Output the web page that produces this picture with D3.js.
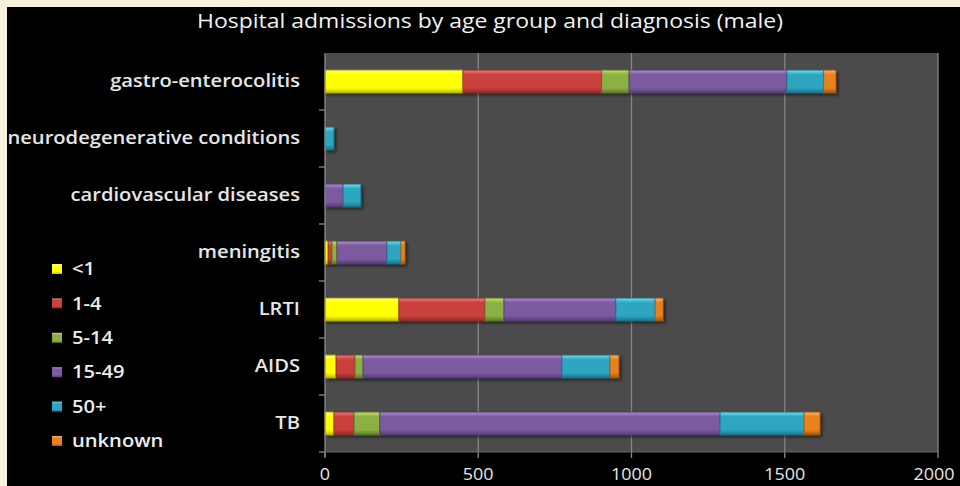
<!DOCTYPE html>
<html>
<head>
<meta charset="utf-8">
<script src="https://cdn.jsdelivr.net/npm/d3@7"></script>
<style>
  html, body { margin: 0; padding: 0; background: #f8f1dc; }
  svg { display: block; }
</style>
</head>
<body>
<svg id="chart" width="960" height="486"></svg>
<script>
// Diagnoses, top to bottom
const categories = [
  "gastro-enterocolitis",
  "neurodegenerative conditions",
  "cardiovascular diseases",
  "meningitis",
  "LRTI",
  "AIDS",
  "TB"
];

// Age groups (stack order, left to right)
const ageGroups = ["<1", "1-4", "5-14", "15-49", "50+", "unknown"];

// Admissions per age group, in category order
const under1    = [450,  0,  0,  10, 241,  36,   29];
const age1to4   = [453,  0,  0,  13, 281,  62,   66];
const age5to14  = [ 89,  0,  0,  16,  62,  26,   84];
const age15to49 = [515,  0, 59, 163, 365, 649, 1110];
const age50plus = [120, 29, 58,  46, 128, 157,  274];
const unknown   = [ 40,  0,  0,  13,  26,  29,   52];

const xTicks = [0, 500, 1000, 1500, 2000];

const seriesValues = [under1, age1to4, age5to14, age15to49, age50plus, unknown];
const colors = ["#ffff00", "#c9403d", "#8cb043", "#7b5aa0", "#2ea6c2", "#e9821f"];
const lightColors = ["#ffff66", "#f27c7a", "#c2e36e", "#b08fd6", "#6ee0f5", "#ffb35c"];
const darkColors = ["#b8b800", "#8f2a28", "#5f7a2a", "#553c74", "#1d7388", "#a65812"];

const rows = categories.map((c, i) => {
  const r = { category: c };
  ageGroups.forEach((g, j) => { r[g] = seriesValues[j][i]; });
  return r;
});

const svg = d3.select("#chart");

// Widen a text run horizontally, keeping its glyph height
function stretch(sel, factor) {
  sel.each(function () {
    const w = this.getComputedTextLength();
    d3.select(this).attr("textLength", w * factor).attr("lengthAdjust", "spacingAndGlyphs");
  });
}

// Black chart area inside the cream frame
svg.append("rect").attr("x", 7).attr("y", 7).attr("width", 953).attr("height", 479).attr("fill", "#000");

const plot = { left: 325, top: 53, width: 613, height: 399 };

const x = d3.scaleLinear().domain([0, 2000]).range([plot.left, plot.left + plot.width]);
const y = d3.scaleBand().domain(categories).range([plot.top, plot.top + plot.height]).paddingInner(0.6).paddingOuter(0.3);
const yOuter = d3.scaleBand().domain(categories).range([plot.top, plot.top + plot.height]);

const defs = svg.append("defs");
ageGroups.forEach((g, j) => {
  const grad = defs.append("linearGradient").attr("id", "grad" + j)
    .attr("x1", 0).attr("y1", 0).attr("x2", 0).attr("y2", 1);
  grad.append("stop").attr("offset", "0%").attr("stop-color", lightColors[j]);
  grad.append("stop").attr("offset", "20%").attr("stop-color", colors[j]);
  grad.append("stop").attr("offset", "78%").attr("stop-color", colors[j]);
  grad.append("stop").attr("offset", "100%").attr("stop-color", darkColors[j]);
});
const shadow = defs.append("filter").attr("id", "shadow").attr("x", "-20%").attr("y", "-30%").attr("width", "140%").attr("height", "180%");
shadow.append("feDropShadow").attr("dx", 2).attr("dy", 2).attr("stdDeviation", 1.6)
  .attr("flood-color", "#000").attr("flood-opacity", 0.55);

// Plot area
svg.append("rect")
  .attr("x", plot.left).attr("y", plot.top)
  .attr("width", plot.width).attr("height", plot.height)
  .attr("fill", "#4b4b4b");

// Vertical gridlines
svg.append("g").selectAll("line")
  .data(xTicks.slice(1))
  .join("line")
  .attr("x1", d => x(d)).attr("x2", d => x(d))
  .attr("y1", plot.top).attr("y2", plot.top + plot.height)
  .attr("stroke", "#868686").attr("stroke-width", 1.3);

// Stacked bars
const stacked = d3.stack().keys(ageGroups)(rows);
const layers = svg.append("g").attr("filter", "url(#shadow)");
stacked.forEach((layer, j) => {
  layers.append("g").selectAll("rect")
    .data(layer.filter(d => d[1] - d[0] > 0))
    .join("rect")
    .attr("x", d => x(d[0]))
    .attr("y", d => y(d.data.category))
    .attr("width", d => x(d[1]) - x(d[0]))
    .attr("height", y.bandwidth())
    .attr("fill", "url(#grad" + j + ")")
    .attr("stroke", darkColors[j])
    .attr("stroke-width", 0.8);
});

// Y axis with ticks between categories
const yAxisG = svg.append("g");
yAxisG.append("line")
  .attr("x1", plot.left).attr("x2", plot.left)
  .attr("y1", plot.top).attr("y2", plot.top + plot.height + 5)
  .attr("stroke", "#8a8a8a").attr("stroke-width", 1.3);
yAxisG.selectAll("line.tick")
  .data(categories.map(c => yOuter(c)).concat([plot.top + plot.height]).slice(1))
  .join("line").attr("class", "tick")
  .attr("x1", plot.left - 6).attr("x2", plot.left)
  .attr("y1", d => d).attr("y2", d => d)
  .attr("stroke", "#8a8a8a").attr("stroke-width", 1.3);
yAxisG.selectAll("text")
  .data(categories)
  .join("text")
  .attr("x", 300)
  .attr("y", d => yOuter(d) + yOuter.bandwidth() / 2 - 1)
  .attr("dy", "0.35em")
  .attr("text-anchor", "end")
  .attr("fill", "#e6e6e6")
  .attr("font-family", "Open Sans, sans-serif")
  .attr("font-weight", 600)
  .attr("font-size", 17.5)
  .text(d => d)
  .call(stretch, 1.15);

// X axis
const xAxisG = svg.append("g");
xAxisG.selectAll("line")
  .data(xTicks)
  .join("line")
  .attr("x1", d => x(d)).attr("x2", d => x(d))
  .attr("y1", plot.top + plot.height).attr("y2", plot.top + plot.height + 6)
  .attr("stroke", "#8a8a8a").attr("stroke-width", 1.3);
xAxisG.append("line")
  .attr("x1", plot.left).attr("x2", plot.left + plot.width)
  .attr("y1", plot.top + plot.height).attr("y2", plot.top + plot.height)
  .attr("stroke", "#666").attr("stroke-width", 1);
xAxisG.selectAll("text")
  .data(xTicks)
  .join("text")
  .attr("x", (d, i) => i === xTicks.length - 1 ? x(d) - 4 : x(d))
  .attr("y", 480)
  .attr("text-anchor", "middle")
  .attr("fill", "#e6e6e6")
  .attr("font-family", "Open Sans, sans-serif")
  .attr("font-size", 16)
  .text(d => d)
  .call(stretch, 1.12);

// Title
svg.append("text")
  .attr("x", 490).attr("y", 28)
  .attr("text-anchor", "middle")
  .attr("fill", "#f2f2f2")
  .attr("font-family", "Open Sans, sans-serif")
  .attr("font-size", 19.5)
  .attr("textLength", 586)
  .attr("lengthAdjust", "spacingAndGlyphs")
  .text("Hospital admissions by age group and diagnosis (male)");

// Legend
const legend = svg.append("g");
const legendItems = legend.selectAll("g")
  .data(ageGroups)
  .join("g")
  .attr("transform", (d, i) => `translate(52, ${269 + i * 34.4})`);
legendItems.append("rect")
  .attr("x", 0).attr("y", -5).attr("width", 10).attr("height", 10)
  .attr("fill", (d, i) => "url(#grad" + i + ")");
legendItems.append("text")
  .attr("x", 20).attr("y", 0).attr("dy", "0.35em")
  .attr("fill", "#ececec")
  .attr("font-family", "Open Sans, sans-serif")
  .attr("font-weight", 600)
  .attr("font-size", 17.5)
  .text(d => d)
  .call(stretch, 1.15);
</script>
</body>
</html>
